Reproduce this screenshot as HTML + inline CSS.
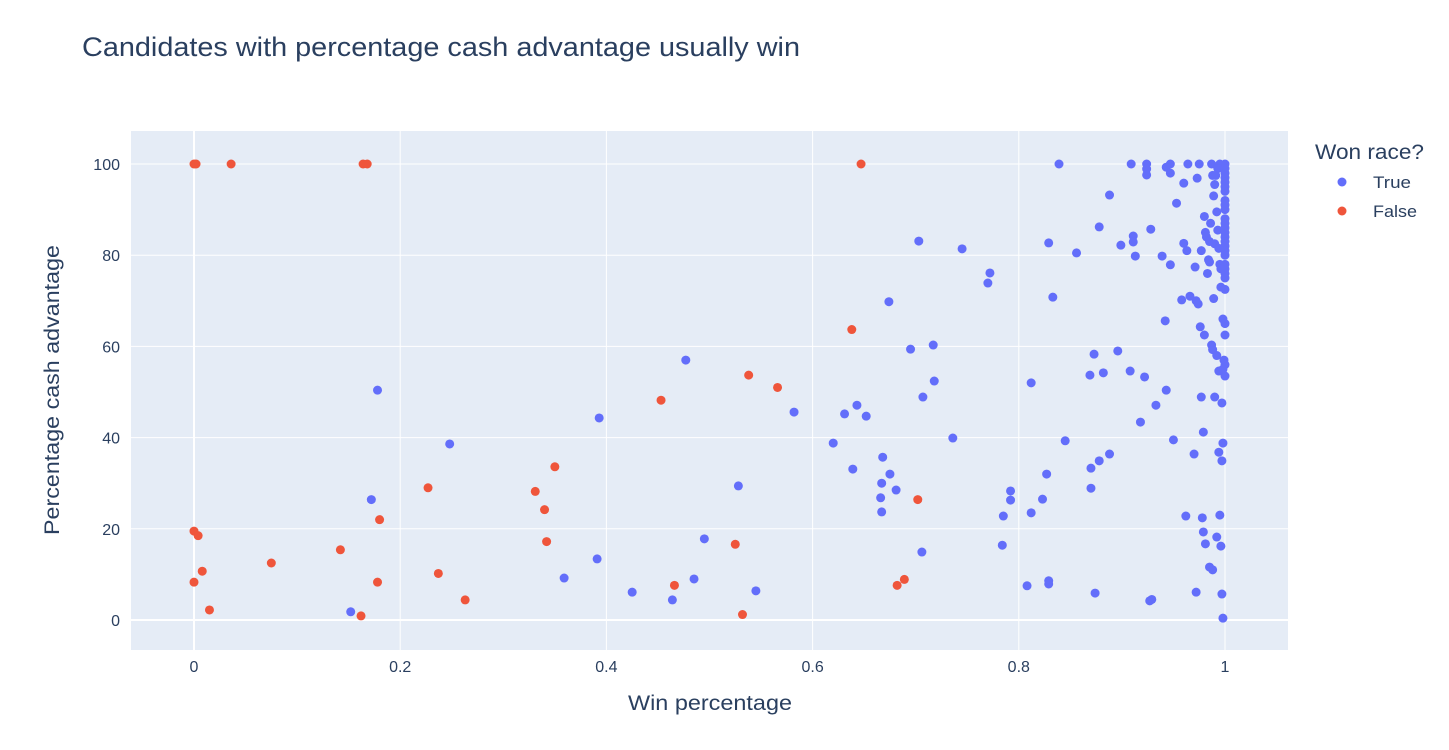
<!DOCTYPE html>
<html><head><meta charset="utf-8">
<style>
body{margin:0;background:#fff;font-family:"Liberation Sans",sans-serif;}
svg text{font-family:"Liberation Sans",sans-serif;fill:#2a3f5f;}
</style></head>
<body>
<svg id="chart" width="1449" height="745" xmlns="http://www.w3.org/2000/svg">
<rect width="1449" height="745" fill="#fff"/>
<text x="82" y="56" font-size="27" textLength="718" lengthAdjust="spacingAndGlyphs">Candidates with percentage cash advantage usually win</text>
<rect x="131" y="131" width="1157" height="519" fill="#e5ecf6"/>
<g id="grid"></g>
<g id="pts"></g>
<g id="ticks"></g>
<text x="628" y="710" font-size="21" textLength="164" lengthAdjust="spacingAndGlyphs">Win percentage</text>
<text transform="translate(59,535) rotate(-90)" font-size="21" textLength="290" lengthAdjust="spacingAndGlyphs">Percentage cash advantage</text>
<text x="1315" y="159" font-size="21" textLength="109" lengthAdjust="spacingAndGlyphs">Won race?</text>
<g><circle cx="1342" cy="182" r="4.5" fill="#636efa"/><text x="1373" y="188" font-size="17" textLength="38" lengthAdjust="spacingAndGlyphs">True</text></g>
<g><circle cx="1342" cy="211" r="4.5" fill="#ef553b"/><text x="1373" y="217" font-size="17" textLength="44" lengthAdjust="spacingAndGlyphs">False</text></g>
</svg>
<script>
const xTicks=[0,0.2,0.4,0.6,0.8,1];
const xTickLabels=["0","0.2","0.4","0.6","0.8","1"];
const yTicks=[0,20,40,60,80,100];
const yTickLabels=["0","20","40","60","80","100"];
const xFalse=[0,0.002,0.036,0.164,0.168,0.647,0.638,0.538,0.566,0.453,0.35,0.227,0.331,0.34,0.18,0.342,0.525,0,0.004,0.008,0,0.015,0.075,0.142,0.178,0.237,0.263,0.162,0.466,0.532,0.702,0.689,0.682];
const yFalse=[100,100,100,100,100,100,63.7,53.7,51,48.2,33.6,29,28.2,24.2,22,17.2,16.6,19.5,18.5,10.7,8.3,2.2,12.5,15.4,8.3,10.2,4.4,0.9,7.6,1.2,26.4,8.9,7.6];
const xTrue=[0.178,0.172,0.248,0.152,0.393,0.391,0.359,0.425,0.464,0.485,0.477,0.495,0.528,0.545,0.582,0.62,0.631,0.643,0.652,0.639,0.668,0.675,0.681,0.666,0.667,0.667,0.674,0.695,0.703,0.707,0.717,0.718,0.706,0.736,0.745,0.772,0.77,0.784,0.785,0.792,0.792,0.808,0.812,0.812,0.823,0.827,0.829,0.829,0.829,0.833,0.839,0.845,0.856,0.869,0.873,0.87,0.87,0.874,0.878,0.878,0.882,0.888,0.888,0.896,0.899,0.908,0.909,0.911,0.911,0.913,0.918,0.922,0.924,0.924,0.924,0.928,0.933,0.939,0.942,0.943,0.943,0.947,0.947,0.947,0.95,0.953,0.96,0.958,0.962,0.96,0.963,0.964,0.966,0.97,0.972,0.971,0.972,0.973,0.974,0.975,0.976,0.977,0.977,0.978,0.979,0.979,0.98,0.981,0.985,0.988,0.987,0.988,0.99,0.992,0.994,0.927,0.929,0.997,0.994,0.995,0.996,0.997,0.998,0.998,0.997,0.98,0.982,0.985,0.987,0.988,0.99,0.992,0.993,0.995,0.996,0.998,0.999,1,1,1,1,1,1,1,1,1,1,1,1,1,1,1,1,1,1,1,1,1,1,1,1,1,1,1,1,0.995,0.993,0.991,0.989,0.986,0.984,0.983,0.99,0.994,0.996,0.998,0.981,0.985,0.989,0.992];
const yTrue=[50.4,26.4,38.6,1.8,44.3,13.4,9.2,6.1,4.4,9,57,17.8,29.4,6.4,45.6,38.8,45.2,47.1,44.7,33.1,35.7,32,28.5,26.8,23.7,30,69.8,59.4,83.1,48.9,60.3,52.4,14.9,39.9,81.4,76.1,73.9,16.4,22.8,28.3,26.3,7.5,23.5,52,26.5,32,8.6,7.9,82.7,70.8,100,39.3,80.5,53.7,58.3,33.3,28.9,5.9,86.2,34.9,54.2,93.2,36.4,59,82.2,54.6,100,84.2,82.9,79.8,43.4,53.3,100,98.9,97.6,85.7,47.1,79.8,65.6,50.4,99.3,100,98,77.9,39.5,91.4,95.8,70.2,22.8,82.6,81,100,71,36.4,6.1,77.4,70,96.9,69.3,100,64.3,48.9,81,22.4,19.3,41.2,62.5,16.7,11.6,11,60.3,59.3,48.9,18.2,54.6,4.2,4.5,5.7,36.8,23,16.2,34.9,38.8,0.4,47.6,88.5,84,83,100,97.5,95.5,89.5,85.5,78,73,66,57,100,99,98,97,96,95,94,92,91,90,88,87,86,85,84,83,82,81,80,78,77,76,75,72.5,65,62.5,56,53.5,100,99,97.5,93,87,79,76,82.5,81.5,77,55,85,78.5,70.5,58];
const X=v=>194+v*1031, Y=v=>620-v*4.56;
const NS="http://www.w3.org/2000/svg";
const grid=document.getElementById('grid'),ticks=document.getElementById('ticks'),pts=document.getElementById('pts');
function mk(tag,attrs,parent){const e=document.createElementNS(NS,tag);for(const k in attrs)e.setAttribute(k,attrs[k]);parent.appendChild(e);return e;}
xTicks.forEach((t,i)=>{
  const l=mk('line',{x1:X(t),x2:X(t),y1:131,y2:650,stroke:'#fff','stroke-width':t===0?2:1},grid);
  
  
  const tx=mk('text',{x:X(t),y:672,'font-size':16,'text-anchor':'middle'},ticks);tx.textContent=xTickLabels[i];
  
  
});
yTicks.forEach((t,i)=>{
  const l=mk('line',{x1:131,x2:1288,y1:Y(t),y2:Y(t),stroke:'#fff','stroke-width':t===0?2:1},grid);
  
  
  const tx=mk('text',{x:120,y:Y(t)+6,'font-size':16,'text-anchor':'end'},ticks);tx.textContent=yTickLabels[i];
  
  
});
xTrue.forEach((v,i)=>{
  const c=mk('circle',{cx:X(v),cy:Y(yTrue[i]),r:4.5,fill:'#636efa'},pts);
  
  
});
xFalse.forEach((v,i)=>{
  const c=mk('circle',{cx:X(v),cy:Y(yFalse[i]),r:4.5,fill:'#ef553b'},pts);
  
  
});
</script>
</body></html>
